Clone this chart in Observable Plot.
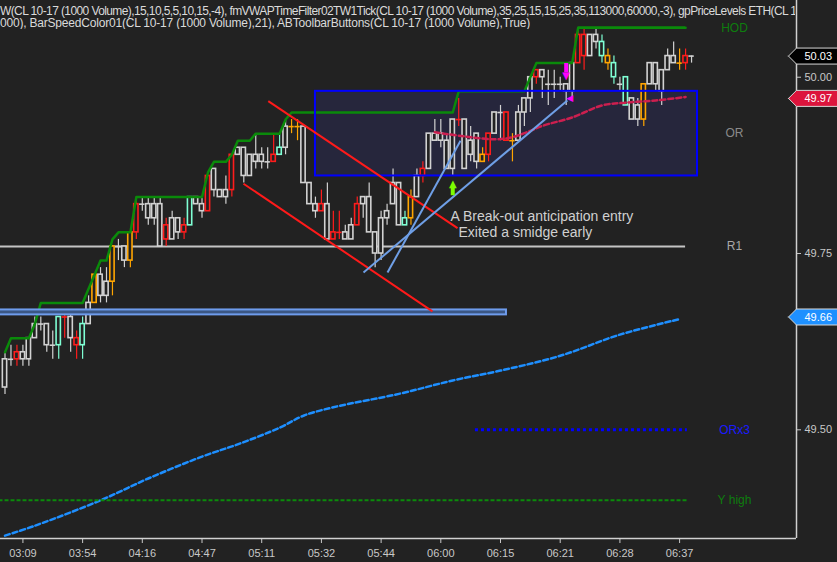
<!DOCTYPE html>
<html><head><meta charset="utf-8">
<script src="https://cdn.jsdelivr.net/npm/d3@7"></script>
<script src="https://cdn.jsdelivr.net/npm/@observablehq/plot@0.6"></script>
<style>
html,body{margin:0;padding:0;background:#222222;}
#wrap{position:relative;width:837px;height:562px;overflow:hidden;background:#222222;}
#hdr{position:absolute;left:0;top:5px;width:795px;overflow:hidden;white-space:nowrap;font:12px/12px "Liberation Sans",Arial,sans-serif;color:#dadada;pointer-events:none;}
#hdr .l1{letter-spacing:-0.6px;}
#hdr .l2{letter-spacing:-0.2px;}
</style></head><body>
<div id="wrap"><div id="chart"></div><div id="hdr"></div></div>
<script>
// ---------- data ----------
const headerLines = [
  "W(CL 10-17 (1000 Volume),15,10,5,5,10,15,-4), fmVWAPTimeFilter02TW1Tick(CL 10-17 (1000 Volume),35,25,15,15,25,35,113000,60000,-3), gpPriceLevels ETH(CL 10-17 (1000 Volume),",
  "000), BarSpeedColor01(CL 10-17 (1000 Volume),21), ABToolbarButtons(CL 10-17 (1000 Volume),True)"
];
const tickIdx = [3, 13, 23, 33, 43, 53, 63, 73, 83, 93, 103, 113];
const tickLabels = ["03:09","03:54","04:16","04:47","05:11","05:32","05:44","06:00","06:15","06:21","06:28","06:37"];

const open = [49.56,49.60,49.61,49.60,49.60,49.63,49.65,49.62,49.62,49.62,
  49.66,49.63,49.63,49.62,49.65,49.68,49.69,49.69,49.71,49.76,
  49.74,49.74,49.82,49.82,49.80,49.80,49.76,49.79,49.77,49.78,
  49.79,49.79,49.82,49.81,49.86,49.84,49.83,49.83,49.89,49.89,
  49.86,49.86,49.88,49.88,49.88,49.89,49.89,49.90,49.93,49.93,
  49.85,49.82,49.81,49.82,49.77,49.78,49.78,49.77,49.77,49.82,
  49.82,49.78,49.75,49.75,49.80,49.82,49.79,49.79,49.80,49.83,
  49.87,49.87,49.91,49.91,49.87,49.87,49.94,49.87,49.89,49.88,
  49.88,49.92,49.92,49.95,49.95,49.91,49.91,49.95,49.97,50.01,
  50.00,49.99,49.99,49.99,49.98,49.98,50.06,50.06,50.03,50.05,
  50.03,50.02,50.00,49.99,49.96,49.94,49.94,49.94,49.99,49.99,
  49.98,50.01,50.02,50.02,50.03,50.03];
const close = [49.60,49.60,49.60,49.61,49.63,49.65,49.65,49.65,49.62,49.66,
  49.66,49.66,49.62,49.65,49.68,49.72,49.72,49.71,49.76,49.76,
  49.76,49.78,49.78,49.82,49.82,49.82,49.82,49.77,49.80,49.80,
  49.78,49.83,49.83,49.82,49.81,49.87,49.84,49.84,49.84,49.90,
  49.90,49.89,49.89,49.89,49.88,49.88,49.90,49.93,49.93,49.93,
  49.93,49.85,49.82,49.81,49.82,49.77,49.78,49.78,49.79,49.79,
  49.83,49.83,49.78,49.80,49.81,49.85,49.85,49.80,49.83,49.86,
  49.86,49.92,49.92,49.92,49.91,49.94,49.94,49.94,49.91,49.92,
  49.89,49.89,49.95,49.95,49.91,49.91,49.95,49.97,50.00,50.00,
  50.01,49.99,49.99,49.99,49.99,50.02,50.02,50.03,50.06,50.06,
  50.05,50.03,50.02,49.99,50.00,49.97,49.96,49.99,50.02,50.02,
  50.01,50.03,50.03,50.02,50.02,50.03];
const high = [49.61,49.62,49.62,49.62,49.63,49.66,49.66,49.65,49.64,49.66,
  49.67,49.67,49.64,49.66,49.69,49.72,49.73,49.73,49.76,49.77,
  49.76,49.78,49.83,49.83,49.83,49.83,49.83,49.80,49.81,49.80,
  49.80,49.83,49.83,49.83,49.86,49.87,49.84,49.86,49.89,49.90,
  49.90,49.89,49.92,49.90,49.90,49.92,49.92,49.94,49.94,49.94,
  49.93,49.85,49.83,49.84,49.85,49.81,49.81,49.79,49.80,49.83,
  49.83,49.85,49.78,49.81,49.82,49.87,49.85,49.81,49.84,49.87,
  49.88,49.92,49.94,49.94,49.92,49.94,49.97,49.94,49.93,49.92,
  49.90,49.92,49.95,49.96,49.95,49.92,49.96,49.97,50.00,50.01,
  50.01,50.01,50.01,50.00,49.99,50.02,50.07,50.07,50.06,50.07,
  50.06,50.04,50.03,50.00,50.00,49.97,49.97,49.99,50.02,50.02,
  50.01,50.04,50.05,50.04,50.04,50.03];
const low = [49.55,49.59,49.59,49.59,49.59,49.63,49.64,49.61,49.60,49.60,
  49.63,49.61,49.60,49.60,49.65,49.68,49.68,49.68,49.69,49.74,
  49.73,49.73,49.77,49.81,49.79,49.79,49.76,49.76,49.77,49.77,
  49.77,49.79,49.82,49.80,49.81,49.83,49.83,49.82,49.83,49.89,
  49.85,49.86,49.87,49.87,49.87,49.88,49.89,49.89,49.92,49.91,
  49.85,49.82,49.80,49.81,49.77,49.77,49.77,49.77,49.77,49.79,
  49.80,49.78,49.73,49.74,49.79,49.82,49.79,49.79,49.79,49.83,
  49.85,49.87,49.91,49.90,49.87,49.86,49.93,49.87,49.88,49.87,
  49.88,49.88,49.92,49.91,49.91,49.88,49.91,49.93,49.95,49.99,
  49.97,49.96,49.97,49.98,49.96,49.97,50.02,50.01,50.03,50.04,
  50.02,50.01,49.99,49.98,49.96,49.94,49.93,49.93,49.99,49.98,
  49.96,50.01,50.02,50.01,50.01,50.02];
const barColor = ["w","w","r","w","w","w","w","w","w","a",
  "r","w","r","a","w","o","w","w","o","w",
  "w","o","r","w","w","w","w","r","w","w",
  "r","a","w","w","r","w","w","w","r","w",
  "w","w","w","w","w","r","a","w","o","o",
  "w","w","w","r","w","r","r","w","w","r",
  "w","w","w","w","w","w","w","a","o","w",
  "r","w","w","w","w","w","r","w","w","w",
  "o","r","w","w","r","o","w","w","w","r",
  "w","w","w","w","w","w","r","r","w","w",
  "a","o","a","w","a","w","w","o","w","w",
  "w","w","w","o","r","w"];

// green stepped band (per bar 0..114)
const greenBand = [49.61,49.63,49.63,49.63,49.63,49.65,49.68,49.68,49.68,49.68,
  49.68,49.68,49.68,49.68,49.70,49.72,49.74,49.74,49.77,49.78,
  49.78,49.78,49.83,49.83,49.83,49.83,49.83,49.83,49.83,49.83,
  49.83,49.83,49.83,49.83,49.865,49.88,49.88,49.88,49.89,49.91,
  49.91,49.91,49.92,49.92,49.92,49.92,49.92,49.94,49.95,49.95,
  49.95,49.95,49.95,49.95,49.95,49.95,49.95,49.95,49.95,49.95,
  49.95,49.95,49.95,49.95,49.95,49.95,49.95,49.95,49.95,49.95,
  49.95,49.95,49.95,49.95,49.95,49.95,49.98,49.98,49.98,49.98,
  49.98,49.98,49.98,49.98,49.98,49.98,49.98,49.98,50.00,50.02,
  50.02,50.02,50.02,50.02,50.02,50.02,50.07,50.07,50.07,50.07,
  50.07,50.07,50.07,50.07,50.07,50.07,50.07,50.07,50.07,50.07,
  50.07,50.07,50.07,50.07,50.07];
// VWAP (red dashed)
const vwapBars = [72, 77, 82, 85, 88, 90, 95, 100, 104, 109, 114];
const vwapVals = [49.922, 49.916, 49.912, 49.915, 49.924, 49.931, 49.943, 49.960, 49.964, 49.967, 49.972];
// lower band (blue dashed)
const lowBandBars = [0, 5, 16, 24, 33, 39.5, 46, 50, 55, 66, 75, 83, 93, 103, 113];
const lowBandVals = [49.350, 49.364, 49.400, 49.431, 49.462, 49.481, 49.503, 49.520, 49.532, 49.551, 49.570, 49.584, 49.605, 49.635, 49.657];

// price levels
const levelNames  = ["HOD", "OR", "R1", "ORx3", "Y high"];
const levelValues = [50.07, 49.92, 49.76, 49.50, 49.40];
const levelColors = ["#0e7d0e", "#8a8a8a", "#a8a8a8", "#1a1aff", "#0e7d0e"];
const orHigh = 49.98, orLow = 49.86;
const zoneHigh = 49.670, zoneLow = 49.663;

// drawn trend lines (bar index, price)
const redLines  = [{i1: 44.1, p1: 49.966, i2: 75.8, p2: 49.786}, {i1: 39.95, p1: 49.849, i2: 71.6, p2: 49.668}];
const blueLines = [{i1: 60.05, p1: 49.723, i2: 94.2, p2: 49.967}, {i1: 64.07, p1: 49.723, i2: 76.3, p2: 49.910}];

const notes = [
  {text: "A Break-out anticipation entry", i: 74.62, p: 49.8025},
  {text: "Exited a smidge early", i: 75.96, p: 49.7800}
];

const tagValues = [50.03, 49.97, 49.66];
const tagFills = ["#000000", "#dc143c", "#1e90ff"];

// ---------- chart ----------
document.getElementById("hdr").innerHTML = headerLines
  .map((s, k) => `<div class="l${k + 1}">${s}</div>`).join("");

const W = 837, H = 562, MR = 41, MB = 24;
const plotRight = W - MR, plotBottom = H - MB;
const xDomain = [-0.754, 132.58];
const yDomain = [49.3459, 50.1088];
const px2i = px => xDomain[0] + px * (xDomain[1] - xDomain[0]) / plotRight;
const pricePerPx = (yDomain[1] - yDomain[0]) / plotBottom;

const colorMap = {w: "#d2d2d2", r: "#ff1c1c", o: "#ffa500", a: "#7fffd4"};
const candles = open.map((o, i) => ({i, o, c: close[i], h: high[i], l: low[i], col: colorMap[barColor[i]]}));
const bodies = candles.filter(d => d.o !== d.c);
const dojis = candles.filter(d => d.o === d.c);

const green = greenBand.map((v, i) => ({i, v}));
const vwap = vwapBars.map((b, k) => ({i: b, v: vwapVals[k]}));
const lowBand = lowBandBars.map((b, k) => ({i: b, v: lowBandVals[k]}));

const levelLabelX = px2i(734);
const hh = 8 * pricePerPx;
const tagShape = v => [[px2i(788), v], [px2i(796), v + hh], [px2i(850), v + hh], [px2i(850), v - hh], [px2i(796), v - hh], [px2i(788), v]];

const chart = Plot.plot({
  width: W, height: H,
  marginLeft: 0, marginRight: MR, marginTop: 0, marginBottom: MB,
  style: {background: "#222222", color: "#c8c8c8", fontSize: "11px", fontFamily: "'Liberation Sans', Arial, sans-serif", overflow: "hidden"},
  x: {domain: xDomain, ticks: tickIdx, tickFormat: d => tickLabels[tickIdx.indexOf(d)], tickSize: 5, tickPadding: 6, label: null},
  y: {domain: yDomain, axis: "right", ticks: [50, 49.75, 49.5], tickFormat: d3.format(".2f"), tickSize: 4, tickPadding: 4, label: null},
  color: {type: "identity"},
  marks: [
    // OR box fill
    Plot.rect([0], {x1: 52.0, x2: 116.0, y1: orLow, y2: orHigh, fill: "#26263c"}),
    // lower band, Y high, ORx3
    Plot.line(lowBand, {x: "i", y: "v", stroke: "#1e8fff", strokeWidth: 2.5, strokeDasharray: "5,3", curve: "catmull-rom"}),
    Plot.ruleY([levelValues[4]], {x1: -1, x2: 114.3, stroke: "#0b8a0b", strokeWidth: 2, strokeDasharray: "4,2"}),
    Plot.ruleY([levelValues[3]], {x1: 78.8, x2: 114.3, stroke: "#0000ff", strokeWidth: 3, strokeDasharray: "3,3"}),
    // R1
    Plot.ruleY([levelValues[2]], {x1: -1, x2: 114.0, stroke: "#c4c4c4", strokeWidth: 2}),
    // candles
    Plot.ruleX(candles, {x: "i", y1: "l", y2: "h", stroke: "col", strokeWidth: 1.2}),
    Plot.rect(bodies, {x1: d => d.i - 0.36, x2: d => d.i + 0.36, y1: d => Math.min(d.o, d.c), y2: d => Math.max(d.o, d.c), fill: "#222222", stroke: "col", strokeWidth: 1.6}),
    Plot.ruleY(dojis, {y: "o", x1: d => d.i - 0.45, x2: d => d.i + 0.45, stroke: "col", strokeWidth: 1.6}),
    // VWAP
    Plot.line(vwap, {x: "i", y: "v", stroke: "#cc1f4f", strokeWidth: 2.5, strokeDasharray: "5,3", curve: "catmull-rom"}),
    // green stepped band
    Plot.line(green, {x: "i", y: "v", stroke: "#0a8a0a", strokeWidth: 2.5}),
    Plot.ruleY([levelValues[0]], {x1: 96, x2: 114, stroke: "#0a8a0a", strokeWidth: 2.5}),
    // OR box outline
    Plot.rect([0], {x1: 52.0, x2: 116.0, y1: orLow, y2: orHigh, fill: "none", stroke: "#0000ff", strokeWidth: 2}),
    // support zone
    Plot.rect([0], {x1: -2, x2: 84, y1: zoneLow, y2: zoneHigh, fill: "#3b5784", stroke: "#6e9cec", strokeWidth: 2}),
    // trend lines
    Plot.link(redLines, {x1: "i1", y1: "p1", x2: "i2", y2: "p2", stroke: "#ff1a1a", strokeWidth: 2}),
    Plot.link(blueLines, {x1: "i1", y1: "p1", x2: "i2", y2: "p2", stroke: "#6f9fe6", strokeWidth: 2}),
    // arrows
    Plot.ruleX([75], {y1: 49.832, y2: 49.843, stroke: "#7cfc00", strokeWidth: 4}),
    Plot.text([75], {x: d => d, y: 49.8485, text: () => "▲", fill: "#7cfc00", fontSize: 10, fontFamily: "DejaVu Sans"}),
    Plot.ruleX([94], {y1: 50.006, y2: 50.0195, stroke: "#ff00ff", strokeWidth: 4}),
    Plot.text([94], {x: d => d, y: 50.0015, text: () => "▼", fill: "#ff00ff", fontSize: 10, fontFamily: "DejaVu Sans"}),
    Plot.text([94.6], {x: d => d, y: 49.9705, text: () => "◀", fill: "#ff00ff", fontSize: 9, fontFamily: "DejaVu Sans"}),
    // notes
    Plot.text(notes, {x: "i", y: "p", text: "text", textAnchor: "start", fill: "#d0d0d0", fontSize: 14}),
    // level labels
    Plot.text(levelNames, {x: levelLabelX, y: (d, k) => levelValues[k], text: d => d, fill: (d, k) => levelColors[k], fontSize: 12}),
    // axis frame lines
    Plot.ruleX([xDomain[1]], {stroke: "#d0d0d0", strokeWidth: 1.5}),
    Plot.ruleY([yDomain[0]], {stroke: "#d0d0d0", strokeWidth: 1.5}),
    // price tags
    ...tagValues.map((v, k) => Plot.line(tagShape(v), {x: d => d[0], y: d => d[1], fill: tagFills[k], stroke: "#d8d8d8", strokeWidth: 1})),
    Plot.text(tagValues, {x: px2i(804), y: d => d, text: d => d.toFixed(2), fill: "#ffffff", textAnchor: "start", fontSize: 11})
  ]
});
document.getElementById("chart").appendChild(chart);
</script>
</body></html>
